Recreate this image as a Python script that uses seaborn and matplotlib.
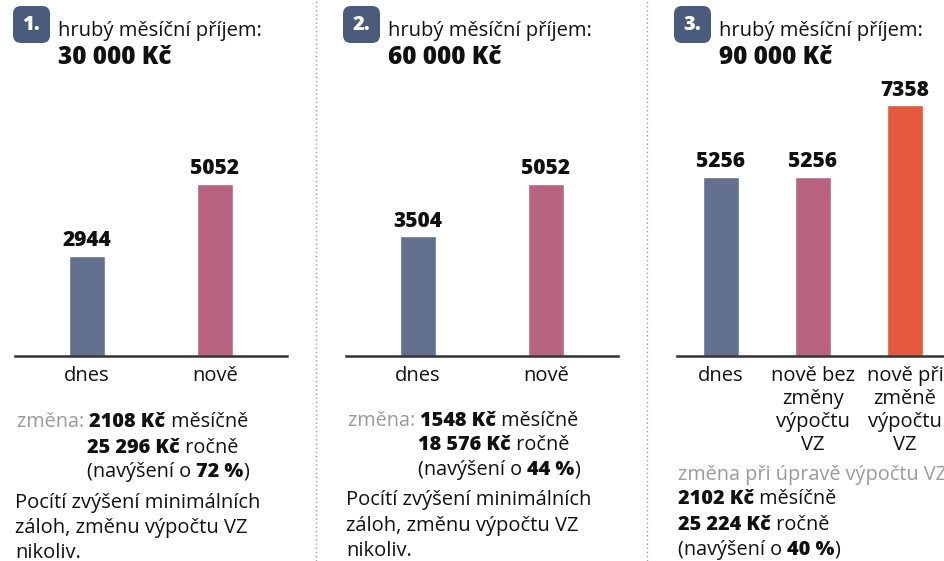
import matplotlib
matplotlib.use("Agg")
import matplotlib.pyplot as plt
import seaborn as sns
import pandas as pd
from matplotlib.lines import Line2D
from matplotlib.patches import FancyBboxPatch

# data
incomes = ["30 000", "60 000", "90 000"]
categories_12 = ["dnes", "nově"]
values_1 = [2944, 5052]
values_2 = [3504, 5052]
categories_3 = ["dnes", "nově bez\nzměny\nvýpočtu\nVZ", "nově při\nzměně\nvýpočtu\nVZ"]
values_3 = [5256, 5256, 7358]
change_month = ["2108", "1548", "2102"]
change_year = ["25 296", "18 576", "25 224"]
change_pct = ["72", "44", "40"]
note_lines = ["Pocítí zvýšení minimálních", "záloh, změnu výpočtu VZ", "nikoliv."]

colors = ["#63718f", "#b86480", "#e4583c"]

sns.set_theme(style="white")
plt.rcParams["font.family"] = ["Open Sans", "DejaVu Sans"]

W, H = 945, 561
fig = plt.figure(figsize=(W / 100, H / 100), dpi=100)
fig.patch.set_facecolor("white")


def px(x, y):
    return x / W, 1 - y / H


def make_axes(left, cats, vals, width, xlim):
    ax = fig.add_axes([left / W, 205 / H, 272 / W, 256 / H])
    df = pd.DataFrame({"cat": cats, "val": vals})
    sns.barplot(data=df, x="cat", y="val", hue="cat", palette=colors[:len(cats)],
                width=width, legend=False, ax=ax, saturation=1)
    ax.set_xlim(*xlim)
    ax.set_ylim(0, 7500)
    for c in ax.containers:
        ax.bar_label(c, fmt="%d", padding=3, fontsize=15, fontweight="heavy", color="#111111")
    for s in ["top", "left", "right"]:
        ax.spines[s].set_visible(False)
    ax.spines["bottom"].set_color("#333333")
    ax.spines["bottom"].set_linewidth(1.8)
    ax.set_yticks([])
    ax.set_xlabel("")
    ax.set_ylabel("")
    ax.tick_params(axis="x", length=0, pad=7, labelsize=14.5, labelcolor="#111111")
    for lab in ax.get_xticklabels():
        lab.set_linespacing(1.2)
    return ax


ax1 = make_axes(15, categories_12, values_1, 0.28, (-0.5625, 1.5625))
ax2 = make_axes(346, categories_12, values_2, 0.28, (-0.5625, 1.5625))
ax3 = make_axes(677, categories_3, values_3, 0.39, (-0.478, 2.478))


def rich(x, y, parts, size=14.3):
    prev = None
    for s, weight, color in parts:
        if prev is None:
            prev = fig.text(*px(x, y), s, fontsize=size, fontweight=weight,
                            color=color, va="bottom", ha="left")
        else:
            prev = ax1.annotate(s, xy=(1, 0), xycoords=prev, va="bottom", ha="left",
                                fontsize=size, fontweight=weight, color=color,
                                annotation_clip=False)


# headers
for i, x0 in enumerate([13, 343, 674]):
    badge = FancyBboxPatch((x0 / 100, (H - 43) / 100), 0.37, 0.37,
                           boxstyle="round,pad=0,rounding_size=0.08",
                           transform=fig.dpi_scale_trans, fc="#4b5b7c", ec="none")
    fig.add_artist(badge)
    fig.text((x0 + 18.5) / W, 1 - 25 / H, f"{i + 1}.", color="white", fontsize=14.5,
             fontweight="heavy", ha="center", va="center")
    fig.text(*px(x0 + 45, 41), "hrubý měsíční příjem:", fontsize=14.5, va="bottom",
             color="#111111")
    fig.text(*px(x0 + 45, 70), incomes[i] + " Kč", fontsize=17.5, fontweight="heavy",
             va="bottom", color="#111111")

# change text, panels 1 and 2
for i, (x0, ys, nb) in enumerate([(15, [432, 458, 482], [508, 533, 558]),
                                  (346, [431, 455, 480], [505, 531, 556])]):
    rich(x0 + 2, ys[0], [("změna: ", "normal", "#9a9a9a"),
                         (change_month[i] + " Kč", "heavy", "#111111"),
                         (" měsíčně", "normal", "#111111")])
    rich(x0 + 72, ys[1], [(change_year[i] + " Kč", "heavy", "#111111"),
                          (" ročně", "normal", "#111111")])
    rich(x0 + 72, ys[2], [("(navýšení o ", "normal", "#111111"),
                          (change_pct[i] + " %", "heavy", "#111111"),
                          (")", "normal", "#111111")])
    for line, yb in zip(note_lines, nb):
        fig.text(*px(x0, yb), line, fontsize=14.5, va="baseline", color="#111111")

# change text, panel 3
rich(678, 485, [("změna při úpravě výpočtu VZ:", "normal", "#9a9a9a")])
rich(678, 509, [(change_month[2] + " Kč", "heavy", "#111111"),
                (" měsíčně", "normal", "#111111")])
rich(678, 535, [(change_year[2] + " Kč", "heavy", "#111111"),
                (" ročně", "normal", "#111111")])
rich(678, 560, [("(navýšení o ", "normal", "#111111"),
                (change_pct[2] + " %", "heavy", "#111111"),
                (")", "normal", "#111111")])

# dotted separators
for xs in [316, 647]:
    fig.add_artist(Line2D([xs / W, xs / W], [0, 1], transform=fig.transFigure,
                          color="#9a9a9a", lw=1, ls=(0, (1, 2))))

fig.savefig("out.png", dpi=100, facecolor="white")
